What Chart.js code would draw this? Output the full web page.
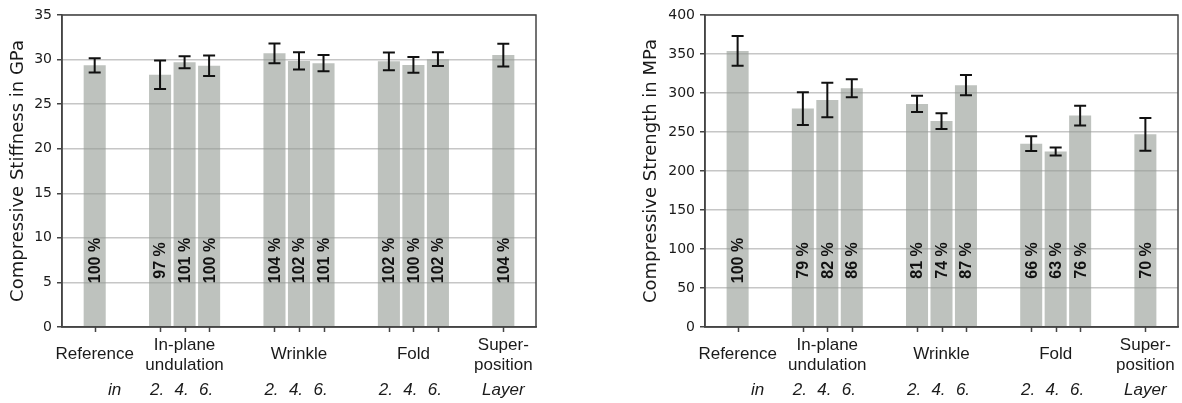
<!DOCTYPE html>
<html lang="en">
<head>
<meta charset="UTF-8" />
<title>Compressive stiffness and strength</title>
<script src="https://cdn.jsdelivr.net/npm/chart.js"></script>
<style>
  html, body { margin: 0; padding: 0; background: #fff; }
  body { width: 1182px; height: 403px; position: relative; overflow: hidden; }
  .box { position: absolute; top: 0; height: 403px; }
  #stiffBox { left: 0; width: 560px; }
  #strengthBox { left: 633px; width: 549px; }
</style>
</head>
<body>
<div class="box" id="stiffBox"><canvas id="stiffness"></canvas></div>
<div class="box" id="strengthBox"><canvas id="strength"></canvas></div>

<script>
// categories
const groups = ["Reference", ["In-plane", "undulation"], "Wrinkle", "Fold", ["Super-", "position"]];
const groupSizes = [1, 3, 3, 3, 1];
const layers = ["", "2.", "4.", "6.", "2.", "4.", "6.", "2.", "4.", "6.", ""];
const layerStart = "in";
const layerEnd = "Layer";

// compressive stiffness (GPa)
const stiffness = [29.35, 28.3, 29.7, 29.3, 30.7, 29.85, 29.6, 29.8, 29.4, 30.05, 30.5];
const stiffnessErr = [0.8, 1.6, 0.68, 1.15, 1.1, 0.97, 0.9, 1.0, 0.88, 0.78, 1.27];
const stiffnessPct = [100, 97, 101, 100, 104, 102, 101, 102, 100, 102, 104];
const stiffnessTicks = [0, 5, 10, 15, 20, 25, 30, 35];

// compressive strength (MPa)
const strength = [354, 280, 291, 306, 286, 264, 310, 235, 225, 271, 247];
const strengthErr = [19, 21, 22, 11.5, 10.5, 10, 13, 9.5, 5, 12.6, 21];
const strengthPct = [100, 79, 82, 86, 81, 74, 87, 66, 63, 76, 70];
const strengthTicks = [0, 50, 100, 150, 200, 250, 300, 350, 400];

// slot layout along x: bars 3 slots apart, groups separated by wider gap
const slots = [];
let s = 4;
groupSizes.forEach((n) => {
  for (let i = 0; i < n; i++) { slots.push(s); s += 3; }
  s += 5;
});
const slotMax = slots[slots.length - 1] + 4;

const dark = "#444";
const textColor = "#1a1a1a";

function overlay(errs, pcts) {
  return {
    id: "overlay",
    afterDatasetsDraw(chart) {
      const ctx = chart.ctx;
      const x = chart.scales.x, y = chart.scales.y;
      const vals = chart.data.datasets[0].data;
      ctx.save();
      // error bars
      ctx.strokeStyle = "#111";
      ctx.lineWidth = 2;
      vals.forEach((d, i) => {
        const px = x.getPixelForValue(d.x);
        const top = y.getPixelForValue(d.y + errs[i]);
        const bot = y.getPixelForValue(d.y - errs[i]);
        ctx.beginPath();
        ctx.moveTo(px, top); ctx.lineTo(px, bot);
        ctx.moveTo(px - 6, top); ctx.lineTo(px + 6, top);
        ctx.moveTo(px - 6, bot); ctx.lineTo(px + 6, bot);
        ctx.stroke();
      });
      // percentage labels inside the bars
      ctx.fillStyle = "#111";
      ctx.font = "bold 16px 'Liberation Sans', Arial, sans-serif";
      ctx.textAlign = "center";
      ctx.textBaseline = "middle";
      vals.forEach((d, i) => {
        const px = x.getPixelForValue(d.x);
        ctx.save();
        ctx.translate(px + 1, y.bottom - 66.5);
        ctx.rotate(-Math.PI / 2);
        ctx.fillText(pcts[i] + " %", 0, 0);
        ctx.restore();
      });
      ctx.restore();
    },
    afterDraw(chart) {
      const ctx = chart.ctx;
      const x = chart.scales.x;
      const a = chart.chartArea;
      ctx.save();
      // frame
      ctx.strokeStyle = dark;
      ctx.lineWidth = 1.5;
      ctx.strokeRect(a.left, a.top, a.right - a.left, a.bottom - a.top);
      // x tick marks under each bar
      ctx.beginPath();
      slots.forEach((v) => {
        const px = Math.round(x.getPixelForValue(v)) + 0.5;
        ctx.moveTo(px, a.bottom);
        ctx.lineTo(px, a.bottom + 5);
      });
      ctx.stroke();
      // group labels
      ctx.fillStyle = textColor;
      ctx.textAlign = "center";
      ctx.textBaseline = "middle";
      ctx.font = "17px 'Liberation Sans', Arial, sans-serif";
      let k = 0;
      groups.forEach((g, gi) => {
        const n = groupSizes[gi];
        const mid = (slots[k] + slots[k + n - 1]) / 2;
        const px = x.getPixelForValue(mid);
        if (Array.isArray(g)) {
          ctx.fillText(g[0], px, a.bottom + 18);
          ctx.fillText(g[1], px, a.bottom + 38);
        } else {
          ctx.fillText(g, px, a.bottom + 27);
        }
        k += n;
      });
      // layer row
      ctx.font = "italic 17px 'Liberation Sans', Arial, sans-serif";
      const rowY = a.bottom + 63;
      layers.forEach((t, i) => {
        if (t) ctx.fillText(t, x.getPixelForValue(slots[i]) - 3, rowY);
      });
      ctx.fillText(layerStart, x.getPixelForValue(slots[0]) + 20, rowY);
      ctx.fillText(layerEnd, x.getPixelForValue(slots[slots.length - 1]), rowY);
      ctx.restore();
    },
  };
}

function makeChart(id, values, errs, pcts, ticks, title, yWidth, padRight) {
  return new Chart(document.getElementById(id), {
    type: "bar",
    data: {
      datasets: [
        {
          data: slots.map((sx, i) => ({ x: sx, y: values[i] })),
          backgroundColor: "rgba(150,156,150,0.62)",
          borderWidth: 0,
          barPercentage: 0.9,
          categoryPercentage: 1,
        },
      ],
    },
    options: {
      responsive: true,
      maintainAspectRatio: false,
      animation: false,
      events: [],
      layout: { padding: { top: 15, right: padRight, bottom: 0, left: 0 } },
      plugins: { legend: { display: false }, tooltip: { enabled: false } },
      scales: {
        x: {
          type: "linear",
          min: 0,
          max: slotMax,
          offset: false,
          afterBuildTicks: (sc) => { sc.ticks = slots.map((v) => ({ value: v })); },
          afterFit: (sc) => { sc.height = 76; },
          ticks: { autoSkip: false, callback: () => "" },
          grid: { display: false },
          border: { display: true, color: dark, width: 1.5 },
        },
        y: {
          min: ticks[0],
          max: ticks[ticks.length - 1],
          afterBuildTicks: (sc) => { sc.ticks = ticks.map((v) => ({ value: v })); },
          afterFit: (sc) => { sc.width = yWidth; },
          ticks: {
            color: textColor,
            padding: 5,
            font: { family: "'DejaVu Sans'", size: 14 },
          },
          grid: { color: "#c6c6c6", lineWidth: 1.5, tickLength: 5, tickColor: dark },
          border: { color: dark, width: 1.5 },
          title: {
            display: true,
            text: title,
            color: textColor,
            padding: { top: 8, bottom: 0 },
            font: { family: "'DejaVu Sans'", size: 18 },
          },
        },
      },
    },
    plugins: [overlay(errs, pcts)],
  });
}

makeChart("stiffness", stiffness, stiffnessErr, stiffnessPct, stiffnessTicks,
  "Compressive Stiffness in GPa", 62, 24);
makeChart("strength", strength, strengthErr, strengthPct, strengthTicks,
  "Compressive Strength in MPa", 72, 4);
</script>
</body>
</html>
